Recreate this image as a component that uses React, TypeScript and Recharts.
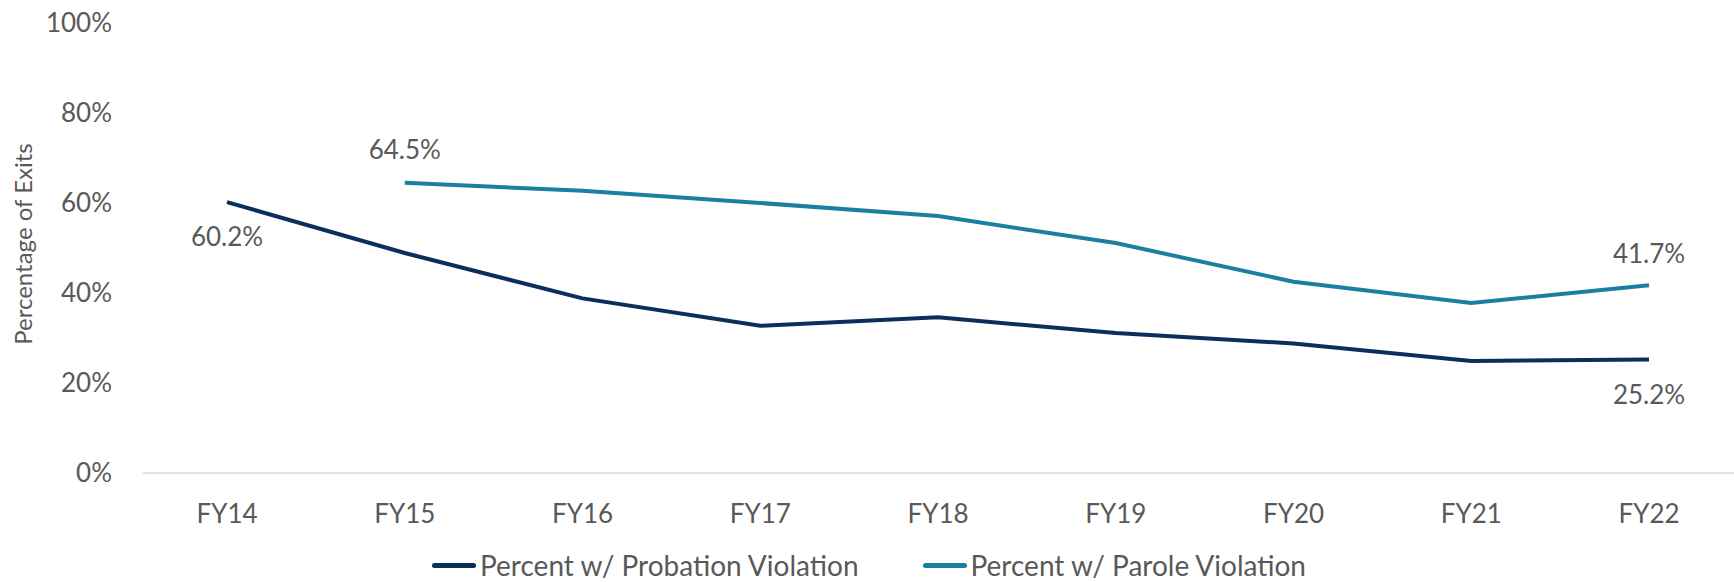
import { Label, Legend, Line, LineChart, XAxis, YAxis } from "recharts";

const years = ["FY14", "FY15", "FY16", "FY17", "FY18", "FY19", "FY20", "FY21", "FY22"];
const probation = [60.2, 48.9, 38.8, 32.7, 34.6, 31.1, 28.8, 24.9, 25.2];
const parole = [null, 64.5, 62.7, 60.0, 57.1, 51.1, 42.5, 37.8, 41.7];
const yTicks = [0, 20, 40, 60, 80, 100];

const data = years.map((year, i) => ({ year, probation: probation[i], parole: parole[i] }));

const FONT = "Lato, 'Open Sans', sans-serif";
const TEXT = "#595959";
const NAVY = "#0a2f5a";
const TEAL = "#1a7fa0";

// which points get a value label, and how far above (-) or below (+) the point
const probationLabels: Record<number, number> = { 0: 35, 8: 35 };
const paroleLabels: Record<number, number> = { 1: -33, 8: -31 };

function makeLabel(which: Record<number, number>) {
  return (props: any) => {
    const { x, y, index, value } = props;
    if (!(index in which) || value == null) return null;
    return (
      <text
        key={`l-${index}`}
        x={x}
        y={y + which[index]}
        dy={9}
        textAnchor="middle"
        fill={TEXT}
        fontSize={26}
        fontFamily={FONT}
      >
        {`${Number(value).toFixed(1)}%`}
      </text>
    );
  };
}

function YTitle() {
  const cy = 244;
  const cx = 22;
  return (
    <text
      x={cx}
      y={cy}
      transform={`rotate(-90 ${cx} ${cy})`}
      textAnchor="middle"
      dominantBaseline="central"
      fill={TEXT}
      fontSize={24}
      fontFamily={FONT}
    >
      Percentage of Exits
    </text>
  );
}

function LegendBox() {
  const items = [
    { name: "Percent w/ Probation Violation", color: NAVY },
    { name: "Percent w/ Parole Violation", color: TEAL },
  ];
  return (
    <div
      style={{
        height: 59,
        boxSizing: "border-box",
        paddingTop: 27,
        display: "flex",
        justifyContent: "center",
        alignItems: "flex-start",
        gap: 64,
        fontFamily: FONT,
        fontSize: 28,
        lineHeight: "30px",
        color: TEXT,
      }}
    >
      {items.map((it) => (
        <div key={it.name} style={{ display: "flex", alignItems: "center", height: 30 }}>
          <span
            style={{
              display: "inline-block",
              width: 44,
              height: 5,
              borderRadius: 3,
              background: it.color,
              marginRight: 4,
            }}
          />
          <span>{it.name}</span>
        </div>
      ))}
    </div>
  );
}

export default function App() {
  return (
    <div style={{ position: "absolute", left: 0, top: 0, width: 1734, height: 582, overflow: "hidden", background: "#fff" }}>
      <LineChart width={1738} height={582} data={data} margin={{ top: 23, right: 0, bottom: 0, left: 0 }}>
        <XAxis
          dataKey="year"
          height={50}
          padding={{ left: 84, right: 89 }}
          tickLine={false}
          axisLine={{ stroke: "#d9d9d9", strokeWidth: 1.5 }}
          tickMargin={26}
          tick={{ fill: TEXT, fontSize: 26, fontFamily: FONT }}
        />
        <YAxis
          width={143}
          domain={[0, 100]}
          ticks={yTicks}
          tickFormatter={(v) => `${v}%`}
          axisLine={false}
          tickLine={false}
          tickMargin={25}
          tick={{ fill: TEXT, fontSize: 26, fontFamily: FONT }}
        >
          <Label content={<YTitle />} />
        </YAxis>
        <Legend verticalAlign="bottom" content={<LegendBox />} />
        <Line
          dataKey="probation"
          name="Percent w/ Probation Violation"
          stroke={NAVY}
          strokeWidth={4}
          dot={false}
          activeDot={false}
          isAnimationActive={false}
          label={makeLabel(probationLabels)}
        />
        <Line
          dataKey="parole"
          name="Percent w/ Parole Violation"
          stroke={TEAL}
          strokeWidth={4}
          dot={false}
          activeDot={false}
          isAnimationActive={false}
          label={makeLabel(paroleLabels)}
        />
      </LineChart>
    </div>
  );
}
